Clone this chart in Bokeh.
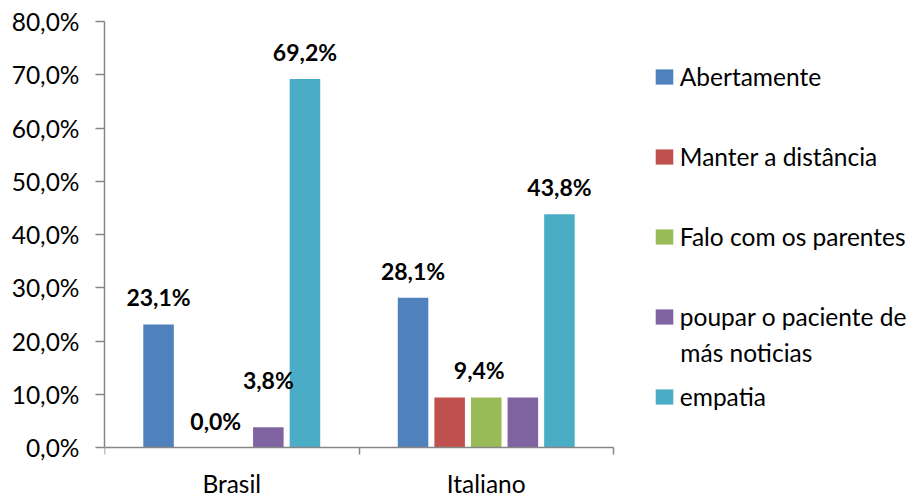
from bokeh.plotting import figure
from bokeh.models import (ColumnDataSource, Range1d, LinearAxis, FixedTicker,
                          CustomJSTickFormatter, Legend, LegendItem, Label)
from bokeh.core.properties import value
from bokeh.embed import file_html
from bokeh.resources import INLINE

# ---- data -------------------------------------------------------------
groups = ["Brasil", "Italiano"]
series = ["Abertamente", "Manter a distância", "Falo com os parentes",
          "poupar o paciente de más noticias", "empatia"]
colors = ["#4F81BD", "#C0504D", "#9BBB59", "#8064A2", "#4BACC6"]

# percentages, one value per group (Brasil, Italiano)
abertamente = [23.1, 28.1]
manter_distancia = [0.0, 9.4]
falo_parentes = [0.0, 9.4]
poupar_paciente = [3.8, 9.4]
empatia = [69.2, 43.8]
values = [abertamente, manter_distancia, falo_parentes, poupar_paciente, empatia]

y_ticks = [0, 10, 20, 30, 40, 50, 60, 70, 80]
Y_MAX = 80

# which bars carry a value label: (series index, group index)
labelled = [(0, 0), (2, 0), (3, 0), (4, 0), (0, 1), (2, 1), (4, 1)]
# small pixel nudges so neighbouring labels do not collide
label_nudge = {(2, 0): (-16, 0), (3, 0): (0, -20), (2, 1): (-7, 0)}

FONT = "Lato"
FS = "24.5px"
AXIS_GREY = "#868686"

# layout (pixels)
W, H = 911, 497
LEFT, TOP = 104, 21
ZERO_Y = 447              # canvas row of the zero line
AXIS_RIGHT = 613          # where the category axis ends


def pct(v):
    return f"{v:.1f}".replace(".", ",") + "%"


def wrap(text, limit=20):
    lines, cur = [], ""
    for w in text.split():
        if cur and len(cur) + 1 + len(w) > limit:
            lines.append(cur)
            cur = w
        else:
            cur = f"{cur} {w}".strip()
    lines.append(cur)
    return lines


# The frame covers everything right of the value axis and below the top
# margin, so the category labels under the zero line and the legend on the
# right are drawn inside it; the axes are bounded to the real data extent.
x_end = len(groups) * (W - LEFT) / (AXIS_RIGHT - LEFT)
y_start = -Y_MAX * (H - ZERO_Y) / (ZERO_Y - TOP)

p = figure(width=W, height=H,
           x_range=Range1d(0, x_end), y_range=Range1d(y_start, Y_MAX),
           x_axis_type=None, y_axis_type=None,
           output_backend="svg", toolbar_location=None,
           min_border_left=LEFT, min_border_right=0,
           min_border_top=TOP, min_border_bottom=0)
p.outline_line_color = None
p.background_fill_color = "white"
p.border_fill_color = "white"

yaxis = LinearAxis(
    bounds=(0, Y_MAX),
    ticker=FixedTicker(ticks=y_ticks, minor_ticks=[]),
    formatter=CustomJSTickFormatter(code="return tick.toFixed(1).replace('.', ',') + '%';"),
    axis_line_color=AXIS_GREY, axis_line_width=1.5,
    major_tick_line_color=AXIS_GREY, major_tick_line_width=1.5,
    major_tick_in=0, major_tick_out=9,
    minor_tick_line_color=None,
    major_label_standoff=16,
    major_label_text_font=FONT, major_label_text_font_size=FS,
    major_label_text_color="black")
p.add_layout(yaxis, "left")

# category axis pinned to the zero line
xaxis = LinearAxis(
    fixed_location=0,
    bounds=(0, len(groups)),
    ticker=FixedTicker(ticks=[g + 0.5 for g in range(len(groups))],
                       minor_ticks=list(range(len(groups) + 1))),
    formatter=CustomJSTickFormatter(args=dict(cats=groups),
                                    code="return cats[Math.floor(tick)];"),
    axis_line_color=AXIS_GREY, axis_line_width=1.5,
    major_tick_line_color=None, major_tick_in=0, major_tick_out=0,
    minor_tick_line_color=AXIS_GREY, minor_tick_line_width=1.5,
    minor_tick_in=0, minor_tick_out=7,
    major_label_standoff=14,
    major_label_text_font=FONT, major_label_text_font_size=FS,
    major_label_text_color="black")
p.add_layout(xaxis, "below")

# ---- bars ---------------------------------------------------------------
n = len(series)
step = 0.1438
bar_w = 0.12
renderers = []
for i, (vals, color) in enumerate(zip(values, colors)):
    off = (i - (n - 1) / 2) * step
    src = ColumnDataSource(dict(x=[g + 0.5 + off for g in range(len(groups))], top=vals))
    r = p.vbar(x="x", top="top", bottom=0, width=bar_w, source=src,
               fill_color=color, line_color=None)
    renderers.append(r)

# ---- value labels ---------------------------------------------------------
lx, ly, lt, ldx, ldy = [], [], [], [], []
for (s, g) in labelled:
    off = (s - (n - 1) / 2) * step
    v = values[s][g]
    dx, dy = label_nudge.get((s, g), (0, 0))
    lx.append(g + 0.5 + off)
    ly.append(v)
    lt.append(pct(v))
    ldx.append(dx)
    ldy.append(-27 + dy)
lab_src = ColumnDataSource(dict(x=lx, y=ly, text=lt, dx=ldx, dy=ldy))
p.text(x="x", y="y", text="text", x_offset="dx", y_offset="dy", source=lab_src,
       text_font=value(FONT), text_font_style="bold", text_font_size="23px",
       text_align="center", text_baseline="alphabetic", text_color="black")

# ---- legend -----------------------------------------------------------------
ITEM_H, ITEM_GAP = 29.5, 51
LEG_X, LEG_BOTTOM = 652.8, 411      # left edge of the swatch box, bottom of last entry
wrapped = [wrap(name) for name in series]
items = [LegendItem(label=lines[0], renderers=[r]) for lines, r in zip(wrapped, renderers)]
legend = Legend(items=items,
                location=(LEG_X - LEFT, H - LEG_BOTTOM),
                padding=0, margin=0, spacing=ITEM_GAP,
                glyph_width=22, glyph_height=19, label_height=19, label_standoff=5,
                label_text_font=FONT, label_text_font_size=FS,
                label_text_color="black",
                border_line_color=None, background_fill_alpha=0)
p.add_layout(legend, "center")

# continuation lines of wrapped legend entries, set under their first line
text_x = LEG_X + 22 + 5
for idx, lines in enumerate(wrapped):
    centre = LEG_BOTTOM - ITEM_H / 2 - (n - 1 - idx) * (ITEM_H + ITEM_GAP)
    for k, extra in enumerate(lines[1:], start=1):
        base = centre + 4 + 32 * k
        p.add_layout(Label(x=text_x - LEFT, y=H - base,
                           x_units="screen", y_units="screen",
                           text=extra, text_font=FONT, text_font_size=FS,
                           text_color="black", text_baseline="alphabetic"))

open("out.html", "w").write(file_html(p, INLINE))
